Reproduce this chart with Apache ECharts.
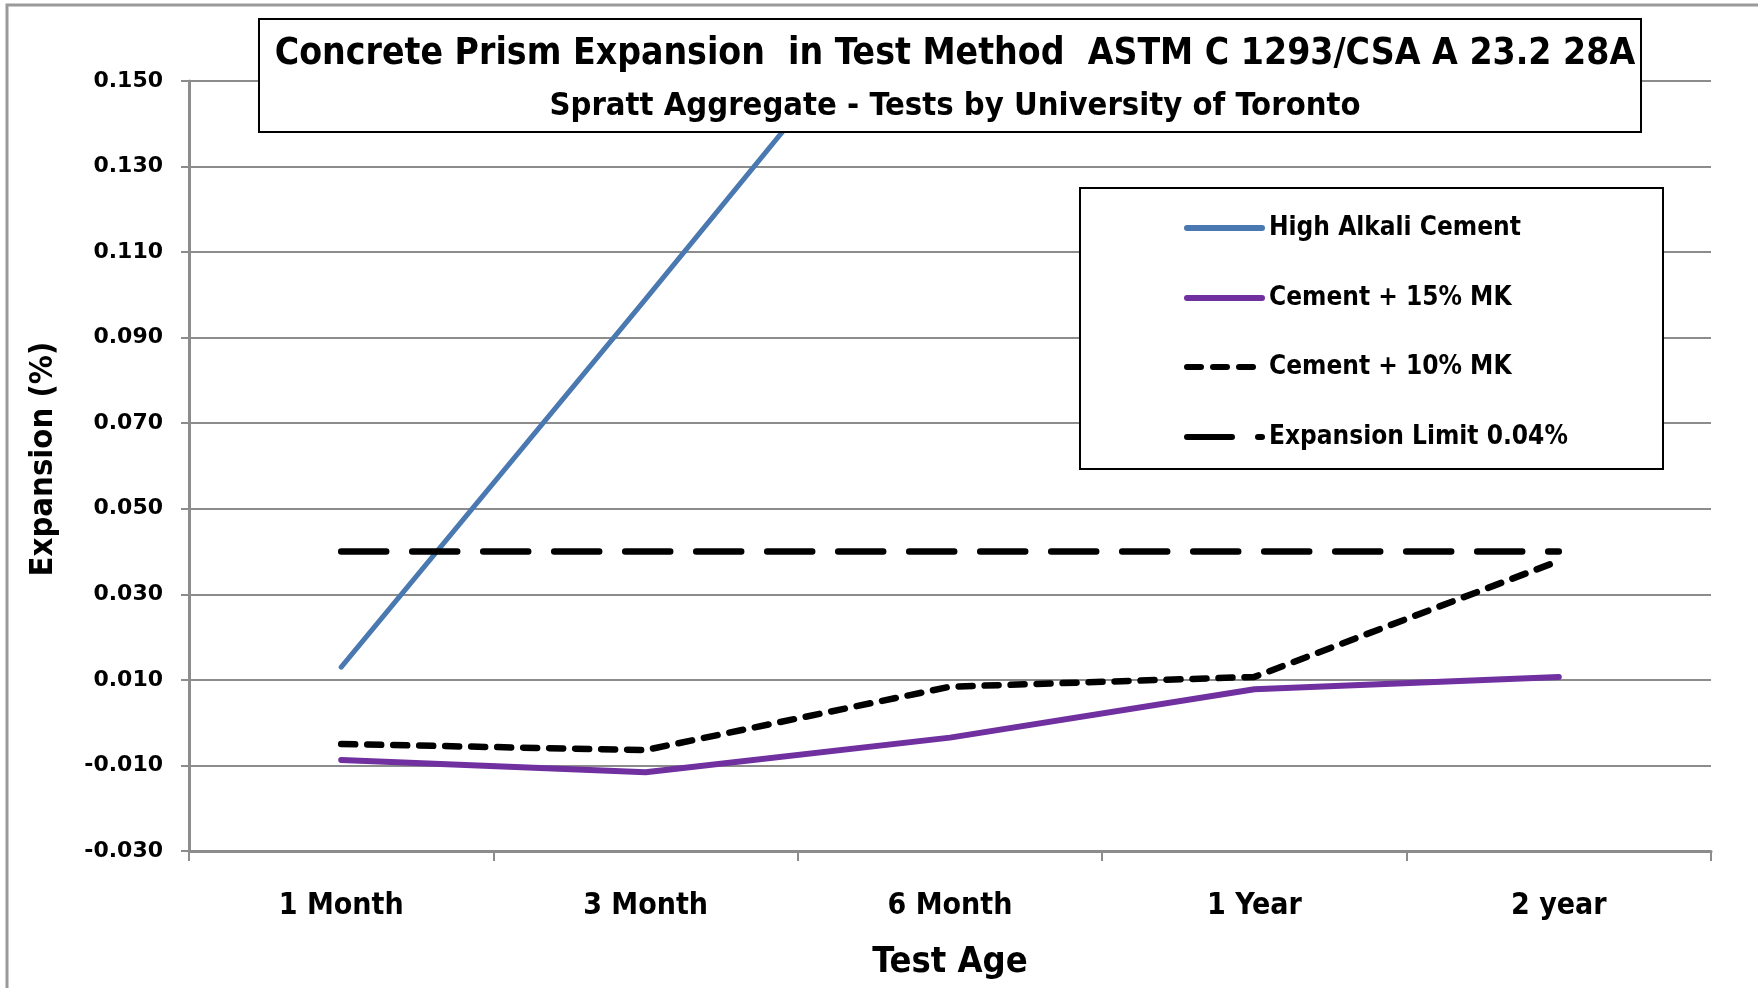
<!DOCTYPE html>
<html>
<head>
<meta charset="utf-8">
<script src="https://cdn.jsdelivr.net/npm/echarts@6/dist/echarts.min.js"></script>
<style>
  html, body { margin: 0; padding: 0; background: #fff; }
  #chart { width: 1758px; height: 988px; }
</style>
</head>
<body>
<div id="chart"></div>
<script>
const ages = ['1 Month', '3 Month', '6 Month', '1 Year', '2 year']
const highAlkali = [0.013, 0.099, 0.186, 0.215, 0.235]
const mk15 = [-0.0087, -0.0116, -0.0035, 0.0078, 0.0107]
const mk10 = [-0.005, -0.0064, 0.0084, 0.0107, 0.0378]
const limit = [0.04, 0.04, 0.04, 0.04, 0.04]

const narrow = '"Liberation Sans Narrow", "DejaVu Sans Condensed", sans-serif'

const chart = echarts.init(document.getElementById('chart'))

const legendRow = (name, top) => ({
  data: [name],
  left: 1184,
  top: top,
  itemWidth: 75,
  itemHeight: 14,
  itemGap: 0,
  padding: 0,
  selectedMode: false,
  z: 6,
  itemStyle: { opacity: 0 },
  lineStyle: { width: 6, cap: 'round' },
  textStyle: { fontFamily: narrow, fontWeight: 'bold', fontSize: 26, color: '#000', padding: [0, 0, 0, 2] }
})

const option = {
  animation: false,
  backgroundColor: '#fff',
  title: {
    text: 'Concrete Prism Expansion  in Test Method  ASTM C 1293/CSA A 23.2 28A',
    subtext: 'Spratt Aggregate - Tests by University of Toronto',
    left: 950,
    top: 27,
    textAlign: 'center',
    itemGap: 13,
    z: 7,
    textStyle: { fontFamily: narrow, fontWeight: 'bold', fontSize: 37, lineHeight: 44, color: '#000' },
    subtextStyle: { fontFamily: narrow, fontWeight: 'bold', fontSize: 32.5, lineHeight: 36, color: '#000' }
  },
  legend: [
    legendRow('High Alkali Cement', 215),
    legendRow('Cement + 15% MK', 285),
    legendRow('Cement + 10% MK', 354),
    legendRow('Expansion Limit 0.04%', 424)
  ],
  grid: { left: 189, right: 47, top: 81, bottom: 137 },
  xAxis: {
    type: 'category',
    data: ages,
    boundaryGap: true,
    name: 'Test Age',
    nameLocation: 'middle',
    nameGap: 94,
    nameTextStyle: { fontFamily: narrow, fontWeight: 'bold', fontSize: 36, color: '#000' },
    axisLine: { onZero: false, lineStyle: { color: '#8c8c8c', width: 3 } },
    axisTick: { show: true, length: 10, lineStyle: { color: '#8c8c8c', width: 2 } },
    axisLabel: { margin: 40, fontFamily: narrow, fontWeight: 'bold', fontSize: 30, color: '#000' },
    splitLine: { show: false }
  },
  yAxis: {
    type: 'value',
    min: -0.03,
    max: 0.15,
    interval: 0.02,
    name: 'Expansion (%)',
    nameLocation: 'middle',
    nameRotate: 90,
    nameGap: 129,
    nameTextStyle: { fontFamily: narrow, fontWeight: 'bold', fontSize: 32.5, color: '#000', padding: [0, 0, 0, 14] },
    axisLine: { show: true, lineStyle: { color: '#8c8c8c', width: 3 } },
    axisTick: { show: true, length: 8, lineStyle: { color: '#8c8c8c', width: 2 } },
    axisLabel: {
      margin: 26,
      fontFamily: '"DejaVu Sans", Verdana, sans-serif',
      fontWeight: 'bold',
      fontSize: 22,
      color: '#000',
      formatter: v => v.toFixed(3)
    },
    splitLine: { show: true, lineStyle: { color: '#8c8c8c', width: 2 } }
  },
  graphic: [
    { type: 'rect', shape: { x: 7, y: 5, width: 1800, height: 1000 }, style: { fill: 'none', stroke: '#9a9a9a', lineWidth: 3 }, z: -1 },
    { type: 'rect', shape: { x: 259, y: 19, width: 1382, height: 113 }, style: { fill: '#fff', stroke: '#000', lineWidth: 2 }, z: 5 },
    { type: 'rect', shape: { x: 1080, y: 188, width: 583, height: 281 }, style: { fill: '#fff', stroke: '#000', lineWidth: 2 }, z: 5 }
  ],
  series: [
    {
      name: 'High Alkali Cement',
      type: 'line',
      data: highAlkali,
      symbol: 'none',
      clip: true,
      lineStyle: { color: '#4a78b0', width: 5, cap: 'round' },
      itemStyle: { color: '#4a78b0' }
    },
    {
      name: 'Cement + 15% MK',
      type: 'line',
      data: mk15,
      symbol: 'none',
      lineStyle: { color: '#7030a0', width: 6, cap: 'round' },
      itemStyle: { color: '#7030a0' }
    },
    {
      name: 'Cement + 10% MK',
      type: 'line',
      data: mk10,
      symbol: 'none',
      lineStyle: { color: '#000', width: 6.5, type: [14, 12], cap: 'round' },
      itemStyle: { color: '#000' }
    },
    {
      name: 'Expansion Limit 0.04%',
      type: 'line',
      data: limit,
      symbol: 'none',
      lineStyle: { color: '#000', width: 6.5, type: [45, 26], cap: 'round' },
      itemStyle: { color: '#000' }
    }
  ]
}

chart.setOption(option)
window.addEventListener('resize', () => chart.resize())
</script>
</body>
</html>
